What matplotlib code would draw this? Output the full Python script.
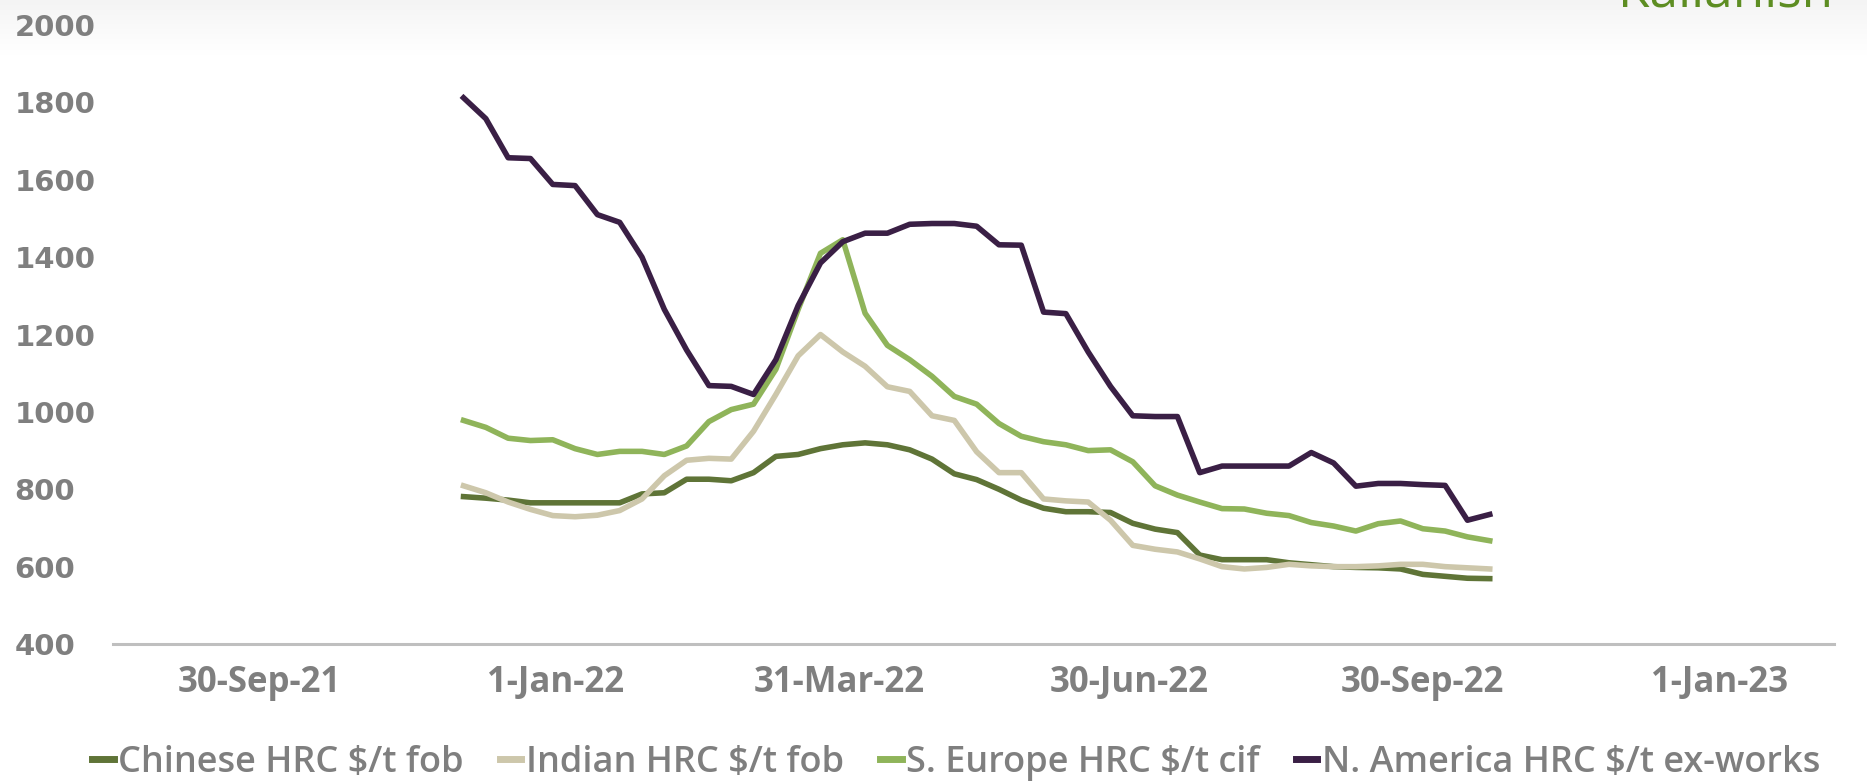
import numpy as np
import pandas as pd
import matplotlib
matplotlib.use("Agg")
import matplotlib.pyplot as plt
import matplotlib.dates as mdates

# weekly HRC price assessments, $/t
dates = pd.date_range("2021-12-03", periods=47, freq="7D")

chinese_fob = [781, 777, 772, 765, 765, 765, 765, 765, 788, 791,
               826, 826, 822, 843, 885, 890, 905, 915, 920, 915,
               902, 878, 840, 825, 800, 772, 751, 742, 742, 740,
               712, 697, 688, 630, 618, 618, 618, 610, 605, 600,
               598, 597, 594, 580, 575, 570, 569]

indian_fob = [809, 791, 767, 748, 732, 729, 733, 745, 775, 835,
              875, 880, 878, 950, 1045, 1145, 1200, 1155, 1118, 1065,
              1053, 990, 978, 897, 843, 843, 775, 770, 767, 720,
              655, 645, 638, 620, 600, 594, 598, 606, 602, 600,
              600, 602, 606, 606, 600, 597, 594]

s_europe_cif = [978, 960, 932, 926, 928, 905, 890, 898, 898, 890,
                912, 975, 1006, 1020, 1110, 1265, 1410, 1445, 1255, 1172,
                1135, 1092, 1040, 1020, 970, 937, 923, 915, 900, 902,
                871, 809, 785, 767, 750, 749, 738, 732, 714, 705,
                692, 711, 718, 698, 692, 677, 667]

n_america_exw = [1812, 1758, 1657, 1655, 1588, 1585, 1510, 1490, 1400, 1265,
                 1160, 1068, 1066, 1045, 1135, 1275, 1385, 1440, 1462, 1462,
                 1485, 1487, 1487, 1480, 1432, 1431, 1258, 1254, 1155, 1066,
                 990, 988, 988, 843, 860, 860, 860, 860, 895, 868,
                 808, 815, 815, 812, 810, 720, 735]

series_names = ["Chinese HRC $/t fob", "Indian HRC $/t fob",
                "S. Europe HRC $/t cif", "N. America HRC $/t ex-works"]
series_colors = ["#5f7437", "#cdc7ab", "#8fb45a", "#3a1f45"]

tick_dates = ["2021-09-30", "2022-01-01", "2022-03-31",
              "2022-06-30", "2022-09-30", "2023-01-01"]
tick_labels = ["30-Sep-21", "1-Jan-22", "31-Mar-22",
               "30-Jun-22", "30-Sep-22", "1-Jan-23"]
y_ticks = [400, 600, 800, 1000, 1200, 1400, 1600, 1800, 2000]

grey = "#7f7f7f"

fig = plt.figure(figsize=(18.67, 7.83), dpi=100)

# faint grey band along the top edge
bg = fig.add_axes([0, 0.93, 1, 0.07], zorder=-5)
grad = np.linspace(0.93, 1.0, 64) ** 0.6
grad = np.clip(grad, 0, 1).reshape(-1, 1)
bg.imshow(np.dstack([grad, grad, grad]), aspect="auto", extent=[0, 1, 0, 1],
          vmin=0, vmax=1)
bg.axis("off")

ax = fig.add_axes([0.0605, 0.1775, 0.9218, 0.7905])
ax.patch.set_alpha(0)

all_series = [chinese_fob, indian_fob, s_europe_cif, n_america_exw]
for vals, name, col in zip(all_series, series_names, series_colors):
    ax.plot(dates, vals, color=col, lw=4.0, label=name, solid_joinstyle="round")

ax.set_ylim(400, 2000)
ax.set_xlim(pd.Timestamp("2021-08-15"), pd.Timestamp("2023-02-06"))

ax.set_yticks(y_ticks)
ax.set_yticklabels([str(v) for v in y_ticks], ha="left",
                   fontsize=21, fontweight="bold", color=grey,
                   family="DejaVu Sans")
ax.set_xticks([mdates.date2num(pd.Timestamp(d)) for d in tick_dates])
ax.set_xticklabels(tick_labels, fontsize=25, fontweight="bold", color=grey,
                   family="Open Sans")
ax.tick_params(axis="y", length=0, pad=71)
ax.tick_params(axis="x", length=0, pad=15)

for side in ["left", "right", "top"]:
    ax.spines[side].set_visible(False)
ax.spines["bottom"].set_color("#bfbfbf")
ax.spines["bottom"].set_linewidth(2.2)

leg = fig.legend(loc="center", bbox_to_anchor=(0.512, 0.026), ncol=4,
                 frameon=False, handlelength=0.6, handletextpad=0.12,
                 columnspacing=1.0,
                 prop={"family": "Open Sans", "size": 26, "weight": "semibold"})
for txt in leg.get_texts():
    txt.set_color(grey)
for h in leg.get_lines():
    h.set_linewidth(5)

# logo text, partly cut off by the top edge
fig.text(0.982, 0.992, "Kallanish", ha="right", va="baseline",
         fontsize=37, color="#5d8d22", family="Open Sans")

fig.savefig("out.png", dpi=100)
